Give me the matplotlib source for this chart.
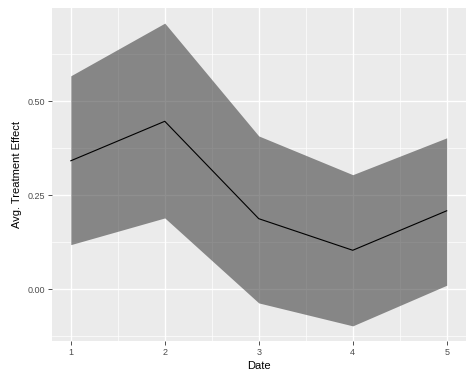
import matplotlib
matplotlib.use("Agg")
import matplotlib.pyplot as plt
from matplotlib.ticker import FixedLocator

plt.rcParams["font.family"] = ["Liberation Sans", "DejaVu Sans"]

# values
dates = [1, 2, 3, 4, 5]
effect = [0.342, 0.447, 0.188, 0.104, 0.209]
upper = [0.568, 0.708, 0.408, 0.305, 0.403]
lower = [0.119, 0.190, -0.036, -0.097, 0.011]

x_ticks = [1, 2, 3, 4, 5]
y_ticks = [0.00, 0.25, 0.50]
y_labels = ["0.00", "0.25", "0.50"]

fig = plt.figure(figsize=(4.71, 3.77), dpi=100)
ax = fig.add_axes([52 / 471, 1 - 341 / 377, (465.5 - 52) / 471, (341 - 8) / 377])
ax.set_facecolor("#EBEBEB")
for s in ax.spines.values():
    s.set_visible(False)

# ggplot-like expanded limits
lo, hi = min(lower), max(upper)
pad = 0.05 * (hi - lo)
ax.set_ylim(lo - pad, hi + pad)
ax.set_xlim(0.8, 5.2)

ax.xaxis.set_major_locator(FixedLocator(x_ticks))
ax.xaxis.set_minor_locator(FixedLocator([1.5, 2.5, 3.5, 4.5]))
ax.yaxis.set_major_locator(FixedLocator(y_ticks))
ax.yaxis.set_minor_locator(FixedLocator([-0.125, 0.125, 0.375, 0.625]))
ax.set_yticklabels(y_labels)
ax.grid(which="major", color="white", linewidth=1.0)
ax.grid(which="minor", color="white", linewidth=0.5)
ax.set_axisbelow(True)

ax.fill_between(dates, lower, upper, color="#333333", alpha=0.55, linewidth=0)
ax.plot(dates, effect, color="black", linewidth=0.8)

ax.tick_params(which="major", length=2.7, width=0.6, color="#333333",
               labelsize=6.5, labelcolor="#4D4D4D", pad=2)
ax.tick_params(which="minor", length=0)
ax.set_xlabel("Date", fontsize=8, labelpad=3)
ax.set_ylabel("Avg. Treatment Effect", fontsize=8, labelpad=4)

fig.savefig("out.png", dpi=100)
